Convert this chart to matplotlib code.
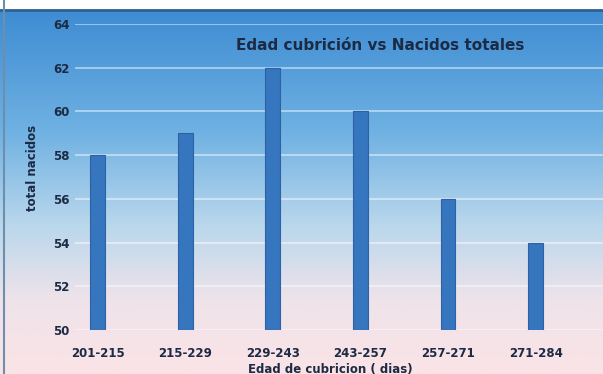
import numpy as np
import matplotlib.pyplot as plt
from matplotlib.colors import LinearSegmentedColormap

categorias = ["201-215", "215-229", "229-243", "243-257", "257-271", "271-284"]
nacidos = [58, 59, 62, 60, 56, 54]
y_ticks = [50, 52, 54, 56, 58, 60, 62, 64]

fig = plt.figure(figsize=(6.03, 3.74), dpi=100)

# Fondo degradado azul -> rosado
bg = fig.add_axes([0, 0, 1, 1], zorder=0)
grad_cmap = LinearSegmentedColormap.from_list(
    "fondo",
    [(0.0, "#3a89d2"), (0.35, "#6fb1e2"), (0.6, "#b9d7ec"),
     (0.8, "#eee3ea"), (1.0, "#fbe3e6")],
)
grad = np.linspace(0, 1, 256).reshape(-1, 1)
bg.imshow(grad, aspect="auto", cmap=grad_cmap, extent=(0, 1, 0, 1),
          origin="upper")
bg.add_patch(plt.Rectangle((0, 0.972), 1, 0.028, color="white", zorder=2))
bg.axhline(0.972, color="#2c5f94", lw=2, zorder=3)
bg.axvline(0.006, color="#6d8fae", lw=1.5, zorder=3)
bg.set_xlim(0, 1)
bg.set_ylim(0, 1)
bg.axis("off")

ax = fig.add_axes([75 / 603, 44 / 374, 528 / 603, 306 / 374], zorder=1)
ax.set_facecolor("none")

x = np.arange(len(categorias))
ax.bar(x, np.array(nacidos) - 50, bottom=50, width=0.17,
       color="#3676bf", edgecolor="#2d62a6", linewidth=0.8, zorder=3)

ax.set_xlim(-0.26, 5.77)
ax.set_ylim(50, 64)
ax.set_yticks(y_ticks)
ax.set_xticks(x)
ax.set_xticklabels(categorias)
ax.tick_params(axis="both", length=0, labelsize=8.5, labelcolor="#1c2a44")
ax.tick_params(axis="y", pad=4)
ax.tick_params(axis="x", pad=12)
for lbl in ax.get_xticklabels() + ax.get_yticklabels():
    lbl.set_fontweight("bold")

ax.grid(axis="y", color="white", alpha=0.55, linewidth=1.2, zorder=1)
for s in ax.spines.values():
    s.set_visible(False)

fig.text(380 / 603, 1 - 45 / 374, "Edad cubrición vs Nacidos totales",
         ha="center", va="center", fontsize=11, fontweight="bold",
         color="#1c2a44")
fig.text(32 / 603, 1 - 168 / 374, "total nacidos", rotation=90,
         ha="center", va="center", fontsize=8.5, fontweight="bold",
         color="#1c2a44")
fig.text(330 / 603, 1 - 369 / 374, "Edad de cubricion ( dias)",
         ha="center", va="center", fontsize=8.5, fontweight="bold",
         color="#1c2a44")

fig.savefig("out.png", dpi=100)
